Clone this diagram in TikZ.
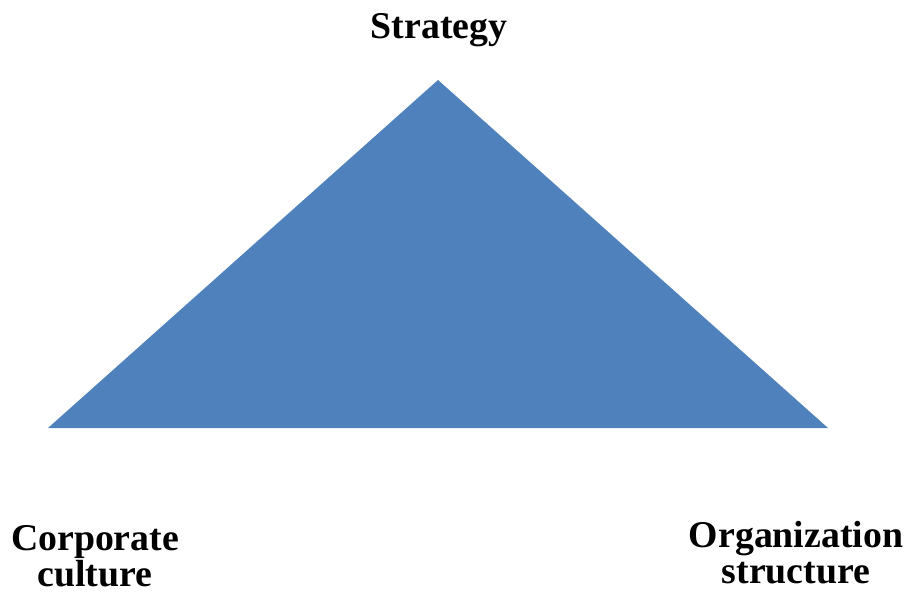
\documentclass[tikz,border=0pt]{standalone}
\usepackage{fontspec}
\setmainfont{Liberation Serif}
\definecolor{triblue}{HTML}{4F81BD}
\begin{document}
\begin{tikzpicture}[x=1pt,y=-1pt,
  label text/.style={font=\bfseries\fontsize{37.8}{36}\selectfont, inner sep=0pt, align=center}]
  \useasboundingbox (0,0) rectangle (905,595);
  % corners of the triangle
  \coordinate (apex) at (438,80);
  \coordinate (bl) at (48,428);
  \coordinate (br) at (828,428);
  \fill[triblue] (apex) -- (br) -- (bl) -- cycle;
  % labels
  \node[label text, anchor=base] (strat) at (439,38) {Strategy};
  \node[label text, anchor=base] (culture) at (95,586) {Corporate\\culture};
  \node[label text, anchor=base] (struct) at (796,583) {Organization\\structure};
\end{tikzpicture}
\end{document}
